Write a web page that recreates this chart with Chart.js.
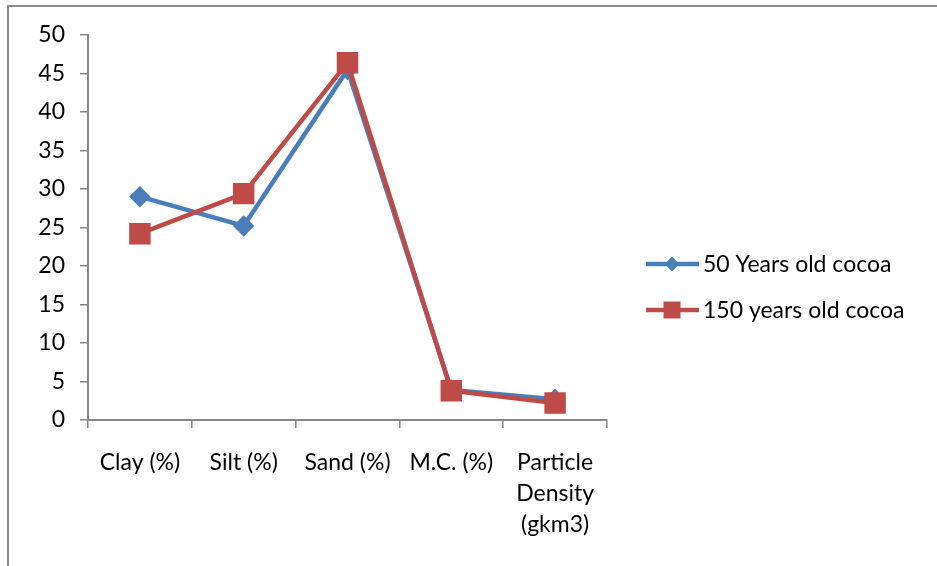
<!DOCTYPE html>
<html><head><meta charset="utf-8">
<script src="https://cdn.jsdelivr.net/npm/chart.js@4.4.0/dist/chart.umd.min.js"></script>
<style>
html,body{margin:0;padding:0;background:#fff;overflow:hidden;}
#frame{position:absolute;left:7px;top:5px;width:1000px;height:1000px;border:2px solid #8a8a8a;box-sizing:border-box;}
#wrap{position:absolute;left:0;top:0;width:937px;height:566px;}
</style></head><body>
<div id="frame"></div>
<div id="wrap"><canvas id="c" width="937" height="566"></canvas></div>
<script>
const categories = ["Clay (%)", "Silt (%)", "Sand (%)", "M.C. (%)", ["Particle", "Density", "(gkm3)"]];
const series50 = [29.0, 25.2, 45.5, 3.9, 2.7];
const series150 = [24.2, 29.4, 46.4, 3.8, 2.2];
const seriesNames = ["50 Years old cocoa", "150 years old cocoa"];
const yTicks = [0, 5, 10, 15, 20, 25, 30, 35, 40, 45, 50];

const BLUE = '#4a7ebb', RED = '#be4b48', AXIS = '#868686';
const FONT = 'Lato, "Open Sans", sans-serif';
const FS = 23;

const legendPlugin = {
  id: 'sideLegend',
  afterDraw(chart) {
    const ctx = chart.ctx;
    const items = [{y: 264, ds: chart.data.datasets[0]}, {y: 310, ds: chart.data.datasets[1]}];
    ctx.save();
    items.forEach(it => {
      ctx.strokeStyle = it.ds.borderColor;
      ctx.lineWidth = 4.5;
      ctx.beginPath(); ctx.moveTo(646, it.y); ctx.lineTo(699, it.y); ctx.stroke();
      ctx.fillStyle = it.ds.backgroundColor;
      const r = it.ds.pointRadius;
      if (it.ds.pointStyle === 'rectRot') {
        ctx.beginPath();
        ctx.moveTo(672, it.y - r); ctx.lineTo(672 + r, it.y); ctx.lineTo(672, it.y + r); ctx.lineTo(672 - r, it.y); ctx.closePath(); ctx.fill();
      } else {
        const s = r / Math.SQRT2;
        ctx.fillRect(672 - s, it.y - s, 2 * s, 2 * s);
      }
      ctx.fillStyle = '#000';
      ctx.font = FS + 'px ' + FONT;
      ctx.textBaseline = 'middle';
      ctx.textAlign = 'left';
      ctx.fillText(it.ds.label, 703, it.y + 1);
    });
    ctx.restore();
  }
};

new Chart(document.getElementById('c'), {
  type: 'line',
  data: {
    labels: categories,
    datasets: [
      {label: seriesNames[0], data: series50, borderColor: BLUE, backgroundColor: BLUE, borderWidth: 4.5,
       pointStyle: 'rectRot', pointRadius: 7.5, pointHoverRadius: 7.5, tension: 0, order: 1},
      {label: seriesNames[1], data: series150, borderColor: RED, backgroundColor: RED, borderWidth: 4.5,
       pointStyle: 'rect', pointRadius: 12, pointHoverRadius: 12, tension: 0, order: 0}
    ]
  },
  options: {
    responsive: false,
    animation: false,
    events: [],
    layout: {padding: {top: 35, right: 330, left: 0, bottom: 0}},
    plugins: {legend: {display: false}, tooltip: {enabled: false}},
    scales: {
      x: {
        offset: true,
        grid: {offset: true, drawOnChartArea: false, drawTicks: true, tickLength: 8, color: AXIS, lineWidth: 1.5},
        border: {color: AXIS, width: 2},
        ticks: {color: '#000', font: {family: FONT, size: FS, lineHeight: 1.35}, padding: 19, maxRotation: 0, autoSkip: false},
        afterFit(s) { s.height = 146; }
      },
      y: {
        min: 0, max: 50,
        afterBuildTicks(s) { s.ticks = yTicks.map(v => ({value: v})); },
        grid: {drawOnChartArea: false, drawTicks: true, tickLength: 8, color: AXIS, lineWidth: 1.5},
        border: {color: AXIS, width: 2},
        ticks: {color: '#000', font: {family: FONT, size: FS}, padding: 15},
        afterFit(s) { s.width = 88; }
      }
    }
  },
  plugins: [legendPlugin]
});
</script>
</body></html>
